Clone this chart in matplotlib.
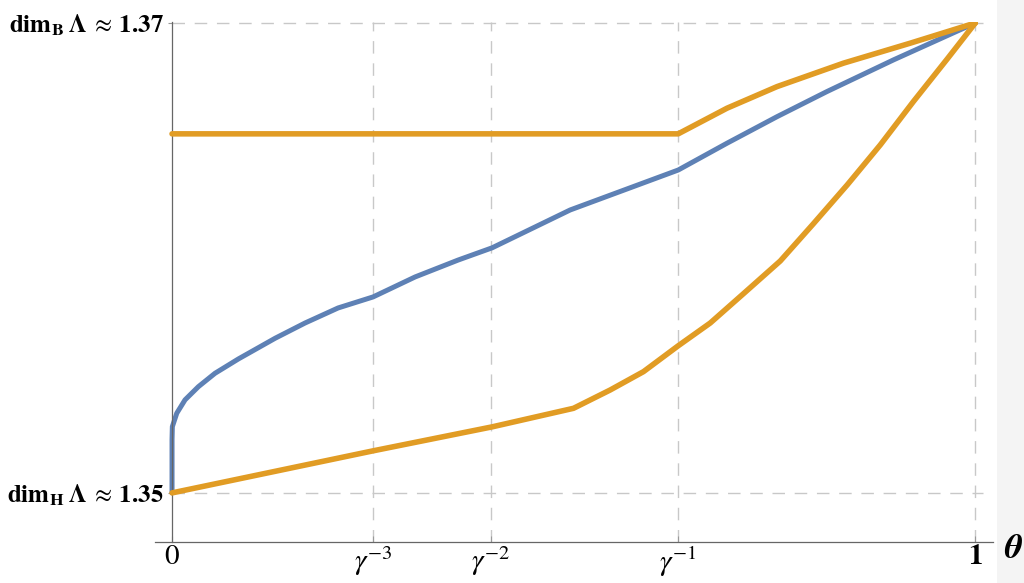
import matplotlib
matplotlib.use("Agg")
import matplotlib.pyplot as plt
from matplotlib.patches import Rectangle

plt.rcParams["mathtext.fontset"] = "stix"
plt.rcParams["font.family"] = "STIXGeneral"

# tick positions (gamma = 2^(2/3))
gamma = 2 ** (2 / 3)
xtick_vals = [0, gamma ** -3, gamma ** -2, gamma ** -1, 1]
xtick_labels = ["0", r"$\gamma^{-3}$", r"$\gamma^{-2}$", r"$\gamma^{-1}$", r"$\mathbf{1}$"]
ytick_vals = [1.35, 1.37]
ytick_labels = [r"$\mathbf{dim}_{\mathbf{H}}\;\mathbf{\Lambda}\:\approx\:\mathbf{1.35}$",
                r"$\mathbf{dim}_{\mathbf{B}}\;\mathbf{\Lambda}\:\approx\:\mathbf{1.37}$"]

# blue curve
blue_x = [0.0, 0.0, 0.0004, 0.0059, 0.0162, 0.0328, 0.0535, 0.0826, 0.1283,
          0.1656, 0.2067, 0.2503, 0.3026, 0.3562, 0.3985, 0.4956, 0.6301, 0.6908,
          0.7531, 0.8153, 0.8983, 1.0]
blue_y = [1.35, 1.35226, 1.35282, 1.35339, 1.35396, 1.35452, 1.35509, 1.35570, 1.35658,
          1.35723, 1.35787, 1.35834, 1.35919, 1.35991, 1.36043, 1.36204,
          1.36374, 1.36488, 1.36601, 1.36708, 1.36843, 1.37]

# upper orange bound
upper_x = [0.0, 0.6301, 0.6908, 0.7531, 0.8360, 0.9191, 1.0]
upper_y = [1.36528, 1.36528, 1.36637, 1.36729, 1.36829, 1.36914, 1.37]

# lower orange bound
lower_x = [0.0, 0.2503, 0.3985, 0.4998, 0.5455, 0.5869, 0.6301, 0.6700, 0.7111, 0.7572,
           0.7983, 0.8406, 0.8817, 0.9228, 0.9651, 1.0]
lower_y = [1.35, 1.35179, 1.35281, 1.35360, 1.35438, 1.35516, 1.35626, 1.35723, 1.35847,
           1.35987, 1.36145, 1.36311, 1.36481, 1.36665, 1.36847, 1.37]

blue = "#5E81B5"
orange = "#E19C24"
grid_col = "#c8c8c8"

fig = plt.figure(figsize=(10.24, 5.83), dpi=100)
fig.patches.append(Rectangle((997 / 1024, 0), 27 / 1024, 1, transform=fig.transFigure,
                             facecolor="#f4f4f4", edgecolor="none", zorder=0))

ax = fig.add_axes([155 / 1024, 1 - 542 / 583, (993 - 155) / 1024, (542 - 22) / 583])
ax.set_xlim(-0.0212, 1.022)
ax.set_ylim(1.34791, 1.37004)
ax.patch.set_alpha(0)

for xv in xtick_vals[1:]:
    ax.axvline(xv, color=grid_col, lw=1, ls=(0, (9, 7)), zorder=1)
for yv in ytick_vals:
    ax.hlines(yv, 0, 1.01, color=grid_col, lw=1, ls=(0, (9, 7)), zorder=1)

ax.plot(upper_x, upper_y, color=orange, lw=4, solid_capstyle="round",
        solid_joinstyle="round", zorder=3)
ax.plot(lower_x, lower_y, color=orange, lw=4, solid_capstyle="round",
        solid_joinstyle="round", zorder=3)
ax.plot(blue_x, blue_y, color=blue, lw=3.6, solid_capstyle="round",
        solid_joinstyle="round", zorder=2)

ax.spines["top"].set_visible(False)
ax.spines["right"].set_visible(False)
ax.spines["left"].set_position(("data", 0))
for s in ("left", "bottom"):
    ax.spines[s].set_color("#666666")
    ax.spines[s].set_linewidth(0.9)

ax.set_xticks(xtick_vals)
ax.set_xticklabels(xtick_labels, fontsize=21)
ax.set_yticks(ytick_vals)
ax.set_yticklabels(ytick_labels, fontsize=18)
ax.tick_params(axis="x", direction="in", length=4, color="#999999", pad=2)
ax.tick_params(axis="y", direction="out", length=3, color="#999999", pad=3)

fig.text(1013 / 1024, 1 - 549 / 583, "θ", fontsize=25, fontweight="bold",
         fontstyle="italic", ha="center", va="center")

fig.savefig("out.png", dpi=100)
